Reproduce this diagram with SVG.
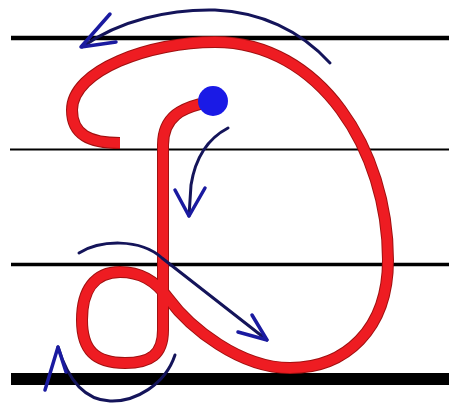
<svg xmlns="http://www.w3.org/2000/svg" width="449" height="405" viewBox="0 0 449 405">
<style>
.rule{stroke:#000;fill:none}
.ro{stroke:#a01010;stroke-width:12;fill:none;stroke-linecap:butt;stroke-linejoin:round}
.r{stroke:#ee1c22;stroke-width:10;fill:none;stroke-linecap:butt;stroke-linejoin:round}
.a{stroke:#14145a;stroke-width:3;fill:none;stroke-linecap:round;stroke-linejoin:round}
.ah{stroke:#1a1aa0;stroke-width:3.5;fill:none;stroke-linecap:round;stroke-linejoin:round}
</style>
<rect width="449" height="405" fill="#fff"/>
<g id="rules">
<line class="rule" x1="11" y1="38" x2="449" y2="38" stroke-width="4.5"/>
<line class="rule" x1="10" y1="149.5" x2="449" y2="149.5" stroke-width="1.8"/>
<line class="rule" x1="11" y1="264.5" x2="449" y2="264.5" stroke-width="3.5"/>
<line class="rule" x1="11" y1="379" x2="449" y2="379" stroke-width="12"/>
</g>
<g id="letter">
<path class="ro" d="M200,104 C185,108 163,115 163,145 L163,330 C163,355 150,363 125,363 C95,363 82,350 82,320 C82,290 95,272 120,272 C140,272 155,280 168,298 C190,328 240,368 290,368 C345,368 388,330 388,260 C388,150 320,42 215,42 C150,42 72,70 72,110 C72,135 90,143 120,143"/>
<path class="r" d="M200,104 C185,108 163,115 163,145 L163,330 C163,355 150,363 125,363 C95,363 82,350 82,320 C82,290 95,272 120,272 C140,272 155,280 168,298 C190,328 240,368 290,368 C345,368 388,330 388,260 C388,150 320,42 215,42 C150,42 72,70 72,110 C72,135 90,143 120,143"/>
<circle id="start" cx="213" cy="101" r="15" fill="#1a1ae6"/>
</g>
<g id="connectors">
<path class="a" d="M330,63 C300,30 260,12 215,10 C170,9 120,20 82,47"/>
<path class="ah" d="M110,14 L81,47 L116,42"/>
<path class="a" d="M228,128 C205,140 195,160 191,185 L189,216"/>
<path class="ah" d="M175,190 L189,216 L205,188"/>
<path class="a" d="M79,253 C100,240 140,238 162,258 L267,340"/>
<path class="ah" d="M252,315 L267,340 L238,332"/>
<path class="a" d="M175,355 C165,385 135,402 110,401 C85,400 68,380 58,347"/>
<path class="ah" d="M45,390 L58,347 L66,372"/>
</g>
</svg>
